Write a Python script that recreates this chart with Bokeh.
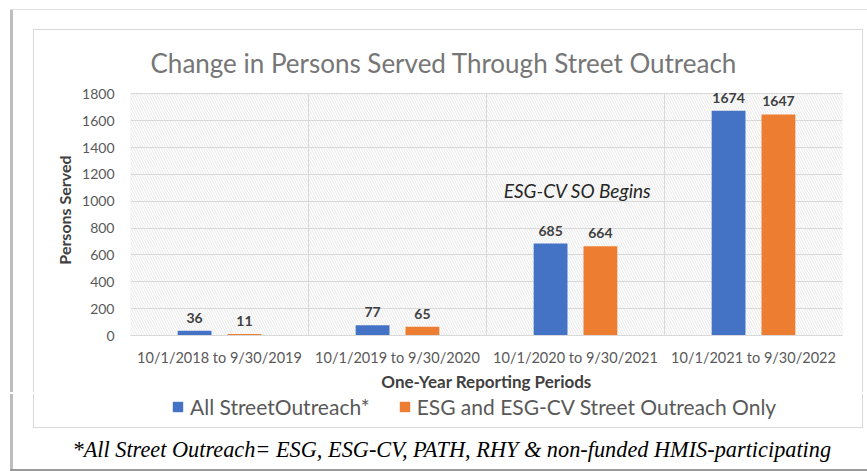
from bokeh.plotting import figure
from bokeh.layouts import column
from bokeh.models import (FactorRange, ColumnDataSource, LabelSet, Label, BoxAnnotation,
                          Legend, LegendItem, FixedTicker, Range1d, Title)
from bokeh.core.properties import value
from bokeh.transform import dodge
from bokeh.embed import file_html
from bokeh.resources import INLINE

periods = ["10/1/2018 to 9/30/2019", "10/1/2019 to 9/30/2020",
           "10/1/2020 to 9/30/2021", "10/1/2021 to 9/30/2022"]
all_outreach = [36, 77, 685, 1674]
esg_only = [11, 65, 664, 1647]
y_ticks = [0, 200, 400, 600, 800, 1000, 1200, 1400, 1600, 1800]
series_names = ["All StreetOutreach*", "ESG and ESG-CV Street Outreach Only"]
title_text = "Change in Persons Served Through Street Outreach"
note_text = "ESG-CV SO Begins"
footnote_text = "*All Street Outreach= ESG, ESG-CV, PATH, RHY & non-funded HMIS-participating"

FONT = "Lato"
BLUE = "#4472C4"
ORANGE = "#ED7D31"
GRID = "#d9d9d9"

W = 867
TOP_H = 392
BOT_H = 79

src = ColumnDataSource(dict(
    period=periods, all=all_outreach, esg=esg_only,
    all_txt=[str(v) for v in all_outreach], esg_txt=[str(v) for v in esg_only]))


def line(color, x, y, w, h):
    return f"linear-gradient({color},{color}) {x}px {y}px/{w}px {h}px no-repeat"


top_css = ", ".join([
    line("#d9d9d9", 33, 29, 830, 1),
    line("#d9d9d9", 33, 29, 1, TOP_H - 29), line("#d9d9d9", 862, 29, 1, TOP_H - 29),
    line("#e0e0e0", 10, 9, W - 10, 1), line("#bdbdbd", 10, 9, 3, TOP_H - 9), "white"])
bot_css = ", ".join([
    line("#d9d9d9", 33, 0, 1, 425 - TOP_H), line("#d9d9d9", 862, 0, 1, 425 - TOP_H),
    line("#d9d9d9", 33, 425 - TOP_H, 830, 1),
    line("#bdbdbd", 10, 0, 3, 467 - TOP_H), line("#9a9a9a", 10, 467 - TOP_H, W - 10, 2), "white"])

p = figure(x_range=FactorRange(*periods, range_padding=0, factor_padding=0),
           y_range=Range1d(0, 1870),
           width=W, height=TOP_H, frame_width=712, frame_height=251,
           output_backend="svg", toolbar_location=None,
           min_border_left=130, min_border_right=25, min_border_top=84, min_border_bottom=57,
           styles={"background": top_css})

p.background_fill_color = "white"
p.border_fill_color = None
p.outline_line_color = None

# hatched plot area (0..1800) with its outline
p.add_layout(BoxAnnotation(bottom=y_ticks[0], top=y_ticks[-1], fill_alpha=0, line_color=GRID,
                           line_width=1, hatch_pattern="\\", hatch_color="#d8d8d8",
                           hatch_scale=5, hatch_weight=0.6, level="underlay"))

# category separators
n = len(periods)
p.segment(x0=list(range(1, n)), y0=[y_ticks[0]] * (n - 1),
          x1=list(range(1, n)), y1=[y_ticks[-1]] * (n - 1),
          line_color=GRID, line_width=1, level="underlay")

r1 = p.vbar(x=dodge("period", -0.14, range=p.x_range), top="all", width=0.19, source=src,
            fill_color=BLUE, line_color=None)
r2 = p.vbar(x=dodge("period", 0.14, range=p.x_range), top="esg", width=0.19, source=src,
            fill_color=ORANGE, line_color=None)

for field, txt, off in (("all", "all_txt", -0.14), ("esg", "esg_txt", 0.14)):
    p.add_layout(LabelSet(x=dodge("period", off, range=p.x_range), y=field, text=txt, source=src,
                          text_align="center", text_baseline="bottom", y_offset=8,
                          text_font=value(FONT), text_font_style="bold", text_font_size="14px",
                          text_color="#404040"))

# grids
p.ygrid.ticker = FixedTicker(ticks=y_ticks)
p.ygrid.grid_line_color = GRID
p.xgrid.grid_line_color = None

# axes
p.yaxis.ticker = FixedTicker(ticks=y_ticks)
p.yaxis.axis_line_color = None
p.yaxis.major_tick_line_color = None
p.yaxis.minor_tick_line_color = None
p.yaxis.major_label_standoff = 10
p.yaxis.major_label_text_font = FONT
p.yaxis.major_label_text_font_size = "14px"
p.yaxis.major_label_text_color = "#595959"
p.yaxis.axis_label = "Persons Served"
p.yaxis.axis_label_text_font = FONT
p.yaxis.axis_label_text_font_style = "bold"
p.yaxis.axis_label_text_font_size = "16px"
p.yaxis.axis_label_text_color = "#404040"
p.yaxis.axis_label_standoff = 5

p.xaxis.axis_line_color = GRID
p.xaxis.major_tick_line_color = None
p.xaxis.minor_tick_line_color = None
p.xaxis.major_label_standoff = 7
p.xaxis.major_label_text_font = FONT
p.xaxis.major_label_text_font_size = "14.5px"
p.xaxis.major_label_text_color = "#595959"
p.xaxis.axis_label = "One-Year Reporting Periods"
p.xaxis.axis_label_text_font = FONT
p.xaxis.axis_label_text_font_style = "bold"
p.xaxis.axis_label_text_font_size = "17px"
p.xaxis.axis_label_text_color = "#404040"
p.xaxis.axis_label_standoff = 2

# title
p.add_layout(Title(text=title_text, align="left", offset=20, standoff=11,
                   text_font=FONT, text_font_style="normal", text_font_size="26px",
                   text_color="#767676"), "above")

# annotation
p.add_layout(Label(x=447, y=145, x_units="screen", y_units="screen",
                   text=note_text, text_align="center", text_baseline="middle",
                   text_font=FONT, text_font_style="italic", text_font_size="19px",
                   text_color="#262626"))

# lower strip: legend (in frame) + footnote (below panel)
q = figure(width=W, height=BOT_H, x_range=Range1d(0, 1), y_range=Range1d(0, 1),
           output_backend="svg", toolbar_location=None,
           x_axis_location=None, y_axis_location=None,
           min_border_left=130, min_border_right=25, min_border_top=0, min_border_bottom=41,
           styles={"background": bot_css})
q.grid.visible = False
q.outline_line_color = None
q.background_fill_color = None
q.border_fill_color = None

# hidden renderers that only supply the legend swatches
lg1 = q.vbar(x=list(range(len(all_outreach))), top=all_outreach, width=0.19,
             fill_color=BLUE, line_color=None, visible=False)
lg2 = q.vbar(x=list(range(len(esg_only))), top=esg_only, width=0.19,
             fill_color=ORANGE, line_color=None, visible=False)

legend = Legend(items=[LegendItem(label=series_names[0], renderers=[lg1]),
                       LegendItem(label=series_names[1], renderers=[lg2])],
                orientation="horizontal", location=(41, 13), click_policy="none",
                glyph_width=13, glyph_height=13, label_standoff=6, spacing=28,
                padding=0, margin=0, border_line_color=None, background_fill_alpha=0,
                label_text_font=FONT, label_text_font_size="21px", label_text_color="#595959",
                label_height=20)
q.add_layout(legend)

q.add_layout(Title(text=footnote_text, align="left", offset=-58, standoff=4,
                   text_font="Liberation Serif", text_font_style="italic", text_font_size="22.3px",
                   text_color="#000000"), "below")

layout = column(p, q, spacing=0)
open("out.html", "w").write(file_html(layout, INLINE))
